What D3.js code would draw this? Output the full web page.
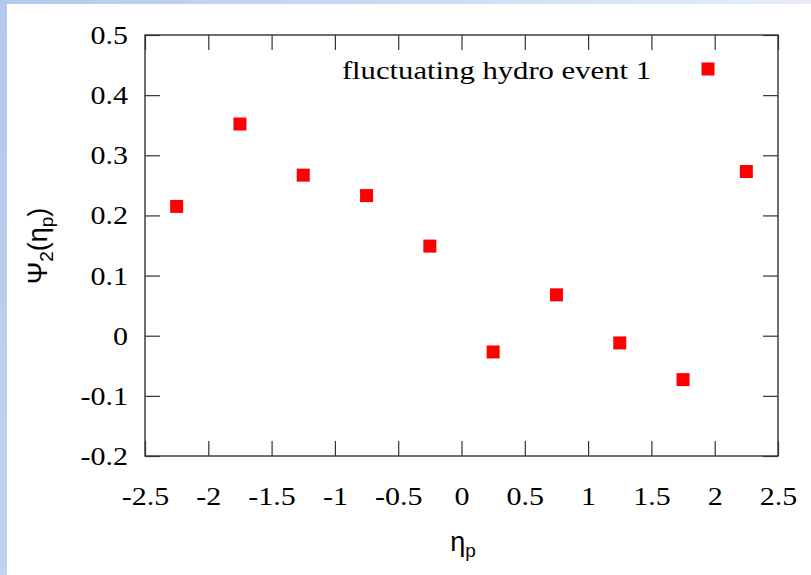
<!DOCTYPE html>
<html>
<head>
<meta charset="utf-8">
<script src="https://cdn.jsdelivr.net/npm/d3@7"></script>
<style>
  html, body { margin: 0; padding: 0; background: #fff; }
  svg { display: block; }
</style>
</head>
<body>
<svg id="chart" width="811" height="575"></svg>
<script>
// ---- data ----
const etaP = [-2.25, -1.75, -1.25, -0.75, -0.25, 0.25, 0.75, 1.25, 1.75, 2.25];
const psi2 = [0.215, 0.352, 0.267, 0.233, 0.149, -0.027, 0.068, -0.012, -0.073, 0.273];
const xTicks = [-2.5, -2, -1.5, -1, -0.5, 0, 0.5, 1, 1.5, 2, 2.5];
const yTicks = [-0.2, -0.1, 0, 0.1, 0.2, 0.3, 0.4, 0.5];
const seriesName = "fluctuating hydro event 1";

const svg = d3.select("#chart");
const W = 811, H = 575;
const L = 145, R = 778, T = 35, B = 456;
const SX = 1.2; // horizontal stretch of serif text

// background gradient strips
const defs = svg.append("defs");
const gTop = defs.append("linearGradient").attr("id", "gtop").attr("x1", "0").attr("x2", "1").attr("y1", "0").attr("y2", "0");
gTop.append("stop").attr("offset", "0").attr("stop-color", "#b2c9ee");
gTop.append("stop").attr("offset", "1").attr("stop-color", "#e6edf8");
const gLeft = defs.append("linearGradient").attr("id", "gleft").attr("x1", "0").attr("x2", "0").attr("y1", "0").attr("y2", "1");
gLeft.append("stop").attr("offset", "0").attr("stop-color", "#b2c9ee");
gLeft.append("stop").attr("offset", "1").attr("stop-color", "#c0d3f0");
svg.append("rect").attr("x", 0).attr("y", 0).attr("width", W).attr("height", 4).attr("fill", "url(#gtop)");
svg.append("rect").attr("x", 0).attr("y", 0).attr("width", 7).attr("height", H).attr("fill", "url(#gleft)");

const x = d3.scaleLinear().domain([-2.5, 2.5]).range([L, R]);
const y = d3.scaleLinear().domain([-0.2, 0.5]).range([B, T]);

const tickLen = 15;
const frameColor = "#333";

function styleAxis(g) {
  g.select(".domain").remove();
  g.selectAll(".tick line").attr("stroke", frameColor).attr("stroke-width", 1.2);
}
const fmt = d => String(d);

const ax = svg.append("g").attr("transform", `translate(0,${B})`)
  .call(d3.axisBottom(x).tickValues(xTicks).tickSizeInner(-tickLen).tickSizeOuter(0).tickFormat(fmt));
styleAxis(ax);
ax.selectAll(".tick text")
  .attr("y", null).attr("dy", null)
  .attr("font-family", "'Liberation Serif', 'Times New Roman', serif")
  .attr("font-size", 25).attr("fill", "#000")
  .attr("text-anchor", "middle")
  .attr("transform", `translate(0,49) scale(${SX},1)`);

const axT = svg.append("g").attr("transform", `translate(0,${T})`)
  .call(d3.axisTop(x).tickValues(xTicks).tickSizeInner(-tickLen).tickSizeOuter(0).tickFormat(""));
styleAxis(axT);

const ay = svg.append("g").attr("transform", `translate(${L},0)`)
  .call(d3.axisLeft(y).tickValues(yTicks).tickSizeInner(-tickLen).tickSizeOuter(0).tickFormat(fmt));
styleAxis(ay);
ay.selectAll(".tick text")
  .attr("x", null).attr("dy", null)
  .attr("font-family", "'Liberation Serif', 'Times New Roman', serif")
  .attr("font-size", 25).attr("fill", "#000")
  .attr("text-anchor", "end")
  .attr("transform", `translate(-17,8.5) scale(${SX},1)`);

const ayR = svg.append("g").attr("transform", `translate(${R},0)`)
  .call(d3.axisRight(y).tickValues(yTicks).tickSizeInner(-tickLen).tickSizeOuter(0).tickFormat(""));
styleAxis(ayR);

// frame
svg.append("rect").attr("x", L).attr("y", T).attr("width", R - L).attr("height", B - T)
  .attr("fill", "none").attr("stroke", frameColor).attr("stroke-width", 1.4);

// points
const ms = 13;
svg.append("g").selectAll("rect").data(etaP.map((d, i) => [d, psi2[i]])).join("rect")
  .attr("x", d => x(d[0]) - ms / 2).attr("y", d => y(d[1]) - ms / 2)
  .attr("width", ms).attr("height", ms).attr("fill", "#ff0000");

// legend
svg.append("text").attr("text-anchor", "end")
  .attr("font-family", "'Liberation Serif', 'Times New Roman', serif")
  .attr("font-size", 26).attr("fill", "#000")
  .attr("transform", `translate(651,79) scale(1.18,1)`)
  .text(seriesName);
svg.append("rect").attr("x", 708 - ms / 2).attr("y", 69 - ms / 2).attr("width", ms).attr("height", ms).attr("fill", "#ff0000");

// axis labels
const xl = svg.append("text").attr("x", 463).attr("y", 551).attr("text-anchor", "middle")
  .attr("font-family", "'Liberation Sans', Arial, sans-serif").attr("font-size", 27).attr("fill", "#000");
xl.append("tspan").text("η");
xl.append("tspan").attr("font-size", 19).attr("dy", 6).text("p");

const yl = svg.append("text").attr("text-anchor", "middle")
  .attr("transform", "translate(47,246) rotate(-90)")
  .attr("font-family", "'Liberation Sans', Arial, sans-serif").attr("font-size", 27).attr("fill", "#000");
yl.append("tspan").text("Ψ");
yl.append("tspan").attr("font-size", 19).attr("dy", 6).text("2");
yl.append("tspan").attr("dy", -6).text("(η");
yl.append("tspan").attr("font-size", 19).attr("dy", 6).text("p");
yl.append("tspan").attr("dy", -6).text(")");
</script>
</body>
</html>
